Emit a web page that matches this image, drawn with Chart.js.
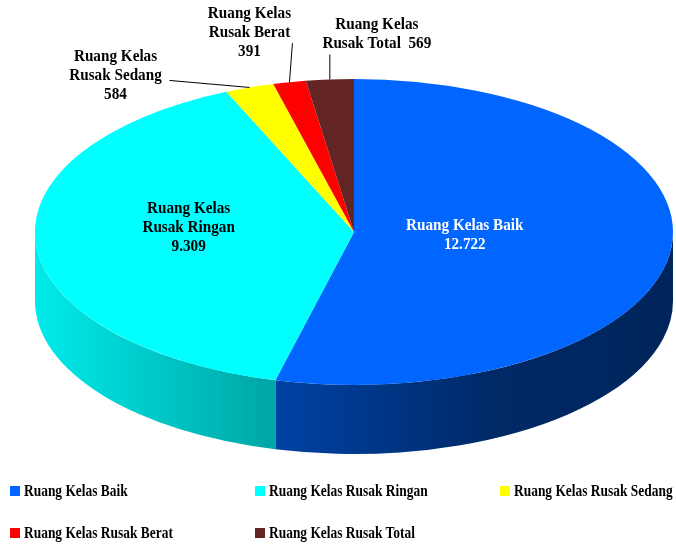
<!DOCTYPE html>
<html>
<head>
<meta charset="utf-8">
<script src="https://cdn.jsdelivr.net/npm/chart.js@4.4.1/dist/chart.umd.min.js"></script>
<style>
  html, body { margin: 0; padding: 0; background: #fff; }
  #wrap { position: relative; width: 676px; height: 545px; overflow: hidden; }
  #chart { position: absolute; left: 0; top: 0; }
  .leg { position: absolute; height: 20px; white-space: nowrap;
         font-family: "Liberation Serif", serif; font-weight: bold; font-size: 17px; color: #000; }
  .leg .box { position: absolute; left: 0; top: 5px; width: 10px; height: 10px; }
  .leg .txt { position: absolute; left: 14px; top: 0; line-height: 20px;
              transform: scaleX(0.79); transform-origin: 0 50%; }
</style>
</head>
<body>
<div id="wrap">
  <canvas id="chart" width="676" height="545"></canvas>
</div>
<script>
const labels = ['Ruang Kelas Baik', 'Ruang Kelas Rusak Ringan', 'Ruang Kelas Rusak Sedang', 'Ruang Kelas Rusak Berat', 'Ruang Kelas Rusak Total'];
const values = [12722, 9309, 584, 391, 569];
const valueText = ['12.722', '9.309', '584', '391', '569'];
const colors = ['#0066FF', '#00FFFF', '#FFFF00', '#FF0000', '#632523'];

// tilted disc: top face ellipse + wall depth
const ELL = { x: 354, y: 232, rx: 319, ry: 153, depth: 69 };
const LABEL_FONT = 'bold 16px "Liberation Serif", serif';
const LABEL_SQUEEZE = 0.95;

// label placement for each slice: inside (radial fraction) or callout
const labelCfg = [
  { type: 'in', frac: 0.35, dy: -3, color: '#fff', lines: ['Ruang Kelas Baik', valueText[0]] },
  { type: 'in', frac: 0.52, dy: -11, color: '#000', lines: ['Ruang Kelas', 'Rusak Ringan', valueText[1]] },
  { type: 'out', elbow: [-80, -7], text: [-134, -12], lines: ['Ruang Kelas', 'Rusak Sedang', valueText[2]] },
  { type: 'out', elbow: [3, -39], text: [-40, -49], lines: ['Ruang Kelas', 'Rusak Berat', valueText[3]] },
  { type: 'out', elbow: [0, -25], text: [47, -45], lines: ['Ruang Kelas', 'Rusak Total  ' + valueText[4]] }
];

function shade(hex, f) {
  const n = parseInt(hex.slice(1), 16);
  const r = Math.round(((n >> 16) & 255) * f);
  const g = Math.round(((n >> 8) & 255) * f);
  const b = Math.round((n & 255) * f);
  return `rgb(${r},${g},${b})`;
}

function ellPoint(a) {
  return [ELL.x + ELL.rx * Math.cos(a), ELL.y + ELL.ry * Math.sin(a)];
}

const pie3d = {
  id: 'pie3d',
  beforeDatasetsDraw(chart) {
    const ctx = chart.ctx;
    const arcs = chart.getDatasetMeta(0).data;

    // front wall, only the part facing the viewer (0..PI)
    arcs.forEach((arc, i) => {
      const a0 = Math.max(arc.startAngle, 0);
      const a1 = Math.min(arc.endAngle, Math.PI);
      if (a1 <= a0) return;
      const g = ctx.createLinearGradient(ELL.x - ELL.rx, 0, ELL.x + ELL.rx, 0);
      g.addColorStop(0, shade(colors[i], 0.92));
      g.addColorStop(0.36, shade(colors[i], 0.66));
      g.addColorStop(0.72, shade(colors[i], 0.40));
      g.addColorStop(1, shade(colors[i], 0.36));
      ctx.beginPath();
      ctx.ellipse(ELL.x, ELL.y, ELL.rx, ELL.ry, 0, a0, a1);
      ctx.ellipse(ELL.x, ELL.y + ELL.depth, ELL.rx, ELL.ry, 0, a1, a0, true);
      ctx.closePath();
      ctx.fillStyle = g;
      ctx.fill();
    });

    // squash the flat pie onto the top face
    const a = arcs[0];
    ctx.save();
    ctx.translate(ELL.x, ELL.y);
    ctx.scale(ELL.rx / a.outerRadius, ELL.ry / a.outerRadius);
    ctx.translate(-a.x, -a.y);
  },
  afterDatasetsDraw(chart) {
    const ctx = chart.ctx;
    ctx.restore();

    const arcs = chart.getDatasetMeta(0).data;
    ctx.save();
    ctx.font = LABEL_FONT;
    ctx.textAlign = 'center';
    ctx.textBaseline = 'middle';
    const lh = 19;
    arcs.forEach((arc, i) => {
      const cfg = labelCfg[i];
      const mid = (arc.startAngle + arc.endAngle) / 2;
      let cx, cy;
      if (cfg.type === 'in') {
        cx = ELL.x + ELL.rx * cfg.frac * Math.cos(mid);
        cy = ELL.y + ELL.ry * cfg.frac * Math.sin(mid) + cfg.dy;
        ctx.fillStyle = cfg.color;
      } else {
        const p = ellPoint(mid);
        ctx.beginPath();
        ctx.moveTo(p[0], p[1]);
        ctx.lineTo(p[0] + cfg.elbow[0], p[1] + cfg.elbow[1]);
        ctx.strokeStyle = '#000';
        ctx.lineWidth = 1;
        ctx.stroke();
        cx = p[0] + cfg.text[0];
        cy = p[1] + cfg.text[1];
        ctx.fillStyle = '#000';
      }
      const n = cfg.lines.length;
      cfg.lines.forEach((t, k) => {
        ctx.save();
        ctx.translate(cx, cy + (k - (n - 1) / 2) * lh);
        ctx.scale(LABEL_SQUEEZE, 1);
        ctx.fillText(t, 0, 0);
        ctx.restore();
      });
    });
    ctx.restore();
  }
};

new Chart(document.getElementById('chart'), {
  type: 'pie',
  data: {
    labels: labels,
    datasets: [{
      data: values,
      backgroundColor: colors,
      borderWidth: 0,
      clip: false
    }]
  },
  options: {
    responsive: false,
    animation: false,
    events: [],
    plugins: {
      legend: { display: false },
      tooltip: { enabled: false }
    }
  },
  plugins: [pie3d]
});

// legend laid out in 3 fixed columns like the original
const wrap = document.getElementById('wrap');
const legCols = [10, 255, 500];
const legRows = [491, 533];
labels.forEach((l, i) => {
  const d = document.createElement('div');
  d.className = 'leg';
  d.style.left = legCols[i % 3] + 'px';
  d.style.top = (legRows[Math.floor(i / 3)] - 10) + 'px';
  const box = document.createElement('span');
  box.className = 'box';
  box.style.background = colors[i];
  const txt = document.createElement('span');
  txt.className = 'txt';
  txt.textContent = l;
  d.appendChild(box);
  d.appendChild(txt);
  wrap.appendChild(d);
});
</script>
</body>
</html>
